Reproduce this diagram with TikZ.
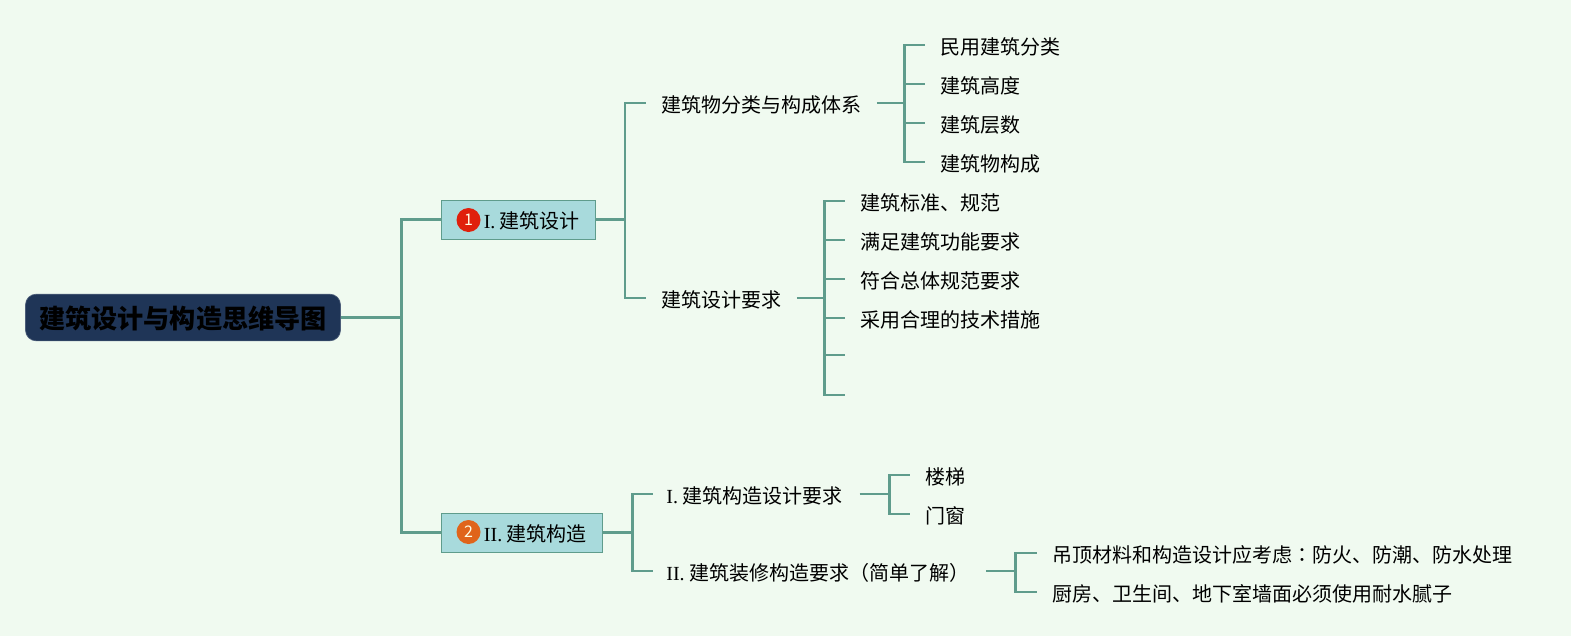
\documentclass[tikz,border=0pt]{standalone}
\usepackage{fontspec}
\setmainfont{Noto Sans CJK SC}
\newfontfamily\latf{Liberation Serif}
\newfontfamily\tcf{Noto Sans CJK TC}
\usetikzlibrary{calc}
\definecolor{bgc}{HTML}{F0FAF0}
\definecolor{linec}{HTML}{5F9C8C}
\definecolor{rootc}{HTML}{1F3557}
\definecolor{boxc}{HTML}{A8DADC}
\definecolor{iconr}{HTML}{E0200C}
\definecolor{icono}{HTML}{E0641A}
\tikzset{
  x=0.75pt,y=-0.75pt,
  conn/.style={draw=linec,line width=1.6pt},
  txt/.style={anchor=west,inner ysep=0pt,inner xsep=11.6pt,font=\fontsize{15pt}{16pt}\selectfont,text=black,text height=15pt,text depth=.6pt},
  txtb/.style={txt,inner xsep=10.2pt},
  rootbox/.style={draw=rootc!80!white,line width=.5pt,fill=rootc,rounded corners=8pt,inner sep=0pt,minimum width=236.25pt,minimum height=35pt,font=\fontsize{19.6pt}{24pt}\selectfont\bfseries,text=black,text height=17pt,text depth=.6pt},
  topic/.style={draw=linec,line width=.5pt,fill=boxc,inner sep=0pt,minimum height=29pt,font=\fontsize{15pt}{16pt}\selectfont,text=black,text height=14pt,text depth=1pt},
  icon/.style={circle,inner sep=0pt,minimum size=18pt,font=\fontsize{12pt}{12pt}\selectfont,text=white!90!yellow}
}
\begin{document}
\begin{tikzpicture}
\useasboundingbox[fill=bgc] (-1.5,0) rectangle (1569.5,636);
% root and main topics
\node[rootbox] (root) at (181.5,317.5) {建筑设计与构造思维导图};
\node[topic,minimum width=115.5pt] (t1) at (517,219.5) {\hspace{20pt}{\latf I.} 建筑设计};
\node[topic,minimum width=120.75pt] (t2) at (520.5,532.5) {\hspace{20pt}{\latf II.} 建筑构造};
\node[icon,fill=iconr] (i1) at (467,220) {1};
\node[icon,fill=icono] (i2) at (467,532) {2};
% second level
\node[txt] (a) at (644,103) {建筑物分类与构成体系};
\node[txt] (b) at (644,298) {建筑设计要求};
\node[txtb] (c) at (651,494) {{\latf I.} 建筑构造设计要求\hspace*{2.5pt}};
\node[txtb] (d) at (651,571) {{\latf II.} 建筑装修构造要求（简单了解）\hspace*{2.5pt}};
% leaves
\node[txt] (a1) at (923,45) {民用建筑分类};
\node[txt] (a2) at (923,84) {建筑高度};
\node[txt] (a3) at (923,123) {建筑层数};
\node[txt] (a4) at (923,162) {建筑物构成};
\node[txt] (b1) at (843,201) {建筑标准、规范};
\node[txt] (b2) at (843,240) {满足建筑功能要求};
\node[txt] (b3) at (843,279) {符合总体规范要求};
\node[txt] (b4) at (843,318) {采用合理的技术措施};
\coordinate (b5) at (843,355);
\coordinate (b6) at (843,395);
\node[txt] (c1) at (908,475) {楼梯};
\node[txt] (c2) at (908,514) {门窗};
\node[txt] (d1) at (1035,553) {吊顶材料和构造设计应考虑{\tcf ：}防火、防潮、防水处理};
\node[txt] (d2) at (1035,592) {厨房、卫生间、地下室墙面必须使用耐水腻子};
% spines
\coordinate (s0) at (400,317.5);
\coordinate (s1) at (623.5,219.5);
\coordinate (s2) at (631,532.5);
\coordinate (sa) at (903,103);
\coordinate (sb) at (823,298);
\coordinate (sc) at (888,494);
\coordinate (sd) at (1014,571);
% connectors
\draw[conn] (root.east) -- (s0);
\draw[conn] (s0) |- (t1.west);
\draw[conn] (s0) |- (t2.west);
\draw[conn] (t1.east) -- (s1);
\draw[conn] (s1) |- (a.west);
\draw[conn] (s1) |- (b.west);
\draw[conn] (t2.east) -- (s2);
\draw[conn] (s2) |- (c.west);
\draw[conn] (s2) |- (d.west);
\draw[conn] (a.east) -- (sa);
\foreach \n in {a1,a2,a3,a4} \draw[conn] (sa) |- (\n.west);
\draw[conn] (b.east) -- (sb);
\foreach \n in {b1,b2,b3,b4} \draw[conn] (sb) |- (\n.west);
\draw[conn] (sb) |- (b5);
\draw[conn] (sb) |- (b6);
\draw[conn] (c.east) -- (sc);
\foreach \n in {c1,c2} \draw[conn] (sc) |- (\n.west);
\draw[conn] (d.east) -- (sd);
\foreach \n in {d1,d2} \draw[conn] (sd) |- (\n.west);
\end{tikzpicture}
\end{document}
